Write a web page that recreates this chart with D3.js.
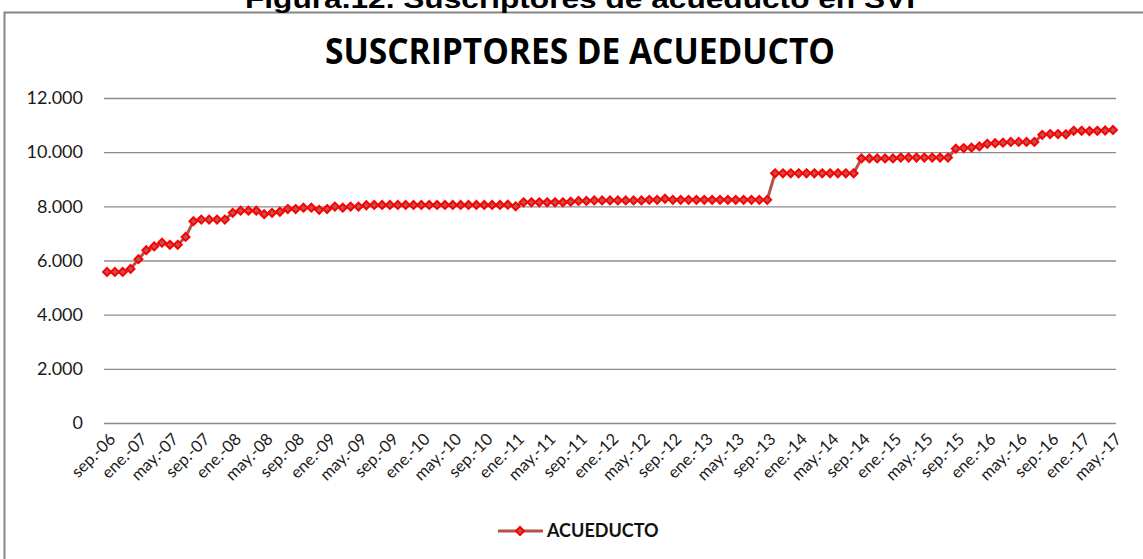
<!DOCTYPE html>
<html>
<head>
<meta charset="utf-8">
<script src="https://cdn.jsdelivr.net/npm/d3@7"></script>
<style>
  body { margin: 0; background: #fff; }
  svg { display: block; }
</style>
</head>
<body>
<div id="chart"></div>
<script>
// monthly subscribers, sep-06 .. may-17
const subscribers = [
  5580, 5580, 5580, 5690, 6050, 6380, 6520, 6660, 6580, 6580,
  6870, 7450, 7510, 7510, 7510, 7510, 7760, 7840, 7840, 7840,
  7710, 7760, 7800, 7900, 7900, 7950, 7950, 7870, 7900, 7990,
  7950, 7990, 7990, 8040, 8050, 8050, 8050, 8050, 8050, 8050,
  8050, 8050, 8050, 8050, 8050, 8050, 8050, 8050, 8050, 8050,
  8050, 8060, 8000, 8150, 8150, 8150, 8150, 8150, 8150, 8170,
  8200, 8200, 8220, 8220, 8220, 8220, 8220, 8220, 8220, 8240,
  8240, 8280, 8240, 8240, 8240, 8240, 8240, 8240, 8240, 8240,
  8240, 8240, 8240, 8240, 8240, 9220, 9220, 9220, 9220, 9220,
  9220, 9220, 9220, 9220, 9220, 9220, 9770, 9770, 9770, 9770,
  9770, 9800, 9800, 9800, 9800, 9800, 9800, 9800, 10130, 10150,
  10170, 10210, 10310, 10330, 10350, 10380, 10380, 10380, 10380, 10640,
  10670, 10670, 10660, 10790, 10790, 10780, 10790, 10800, 10820
];

// one label every four months
const tickLabels = [
  "sep.-06", "ene.-07", "may.-07", "sep.-07", "ene.-08", "may.-08", "sep.-08",
  "ene.-09", "may.-09", "sep.-09", "ene.-10", "may.-10", "sep.-10", "ene.-11",
  "may.-11", "sep.-11", "ene.-12", "may.-12", "sep.-12", "ene.-13", "may.-13",
  "sep.-13", "ene.-14", "may.-14", "sep.-14", "ene.-15", "may.-15", "sep.-15",
  "ene.-16", "may.-16", "sep.-16", "ene.-17", "may.-17"
];

const yTicks = [0, 2000, 4000, 6000, 8000, 10000, 12000];

const months = d3.timeMonth.range(new Date(2006, 8, 1), new Date(2017, 5, 1));

const width = 1143;
const height = 559;

const locale = d3.formatLocale({ decimal: ",", thousands: ".", grouping: [3], currency: ["$", ""] });
const fmt = locale.format(",");

const svg = d3.select("#chart")
  .append("svg")
  .attr("width", width)
  .attr("height", height);

// outer frame (right and bottom sides fall outside the picture)
svg.append("rect")
  .attr("x", 4.5)
  .attr("y", 12.5)
  .attr("width", 1160)
  .attr("height", 600)
  .attr("fill", "none")
  .attr("stroke", "#858585")
  .attr("stroke-width", 2);

// figure caption, cut at the top as in the source page
svg.append("text")
  .attr("x", 580)
  .attr("y", 8)
  .attr("text-anchor", "middle")
  .attr("textLength", 670)
  .attr("lengthAdjust", "spacingAndGlyphs")
  .style("font-family", "'Liberation Sans', Arial, sans-serif")
  .style("font-weight", "bold")
  .style("font-size", "25px")
  .text("Figura.12. Suscriptores de acueducto en SVI");

svg.append("text")
  .attr("x", 580)
  .attr("y", 64)
  .attr("text-anchor", "middle")
  .attr("textLength", 510)
  .attr("lengthAdjust", "spacingAndGlyphs")
  .style("font-family", "'Open Sans', sans-serif")
  .style("font-weight", "bold")
  .style("font-size", "35px")
  .text("SUSCRIPTORES DE ACUEDUCTO");

const x = d3.scalePoint()
  .domain(months.map((d, i) => i))
  .range([107, 1113]);

const y = d3.scaleLinear()
  .domain([0, 12000])
  .range([423, 98]);

// gridlines + y labels
const yAxis = d3.axisLeft(y)
  .tickValues(yTicks)
  .tickFormat(fmt)
  .tickSize(-(1116 - 104))
  .tickPadding(21);

const gy = svg.append("g")
  .attr("transform", "translate(104,0)")
  .call(yAxis);
gy.select(".domain").remove();
gy.selectAll(".tick line")
  .attr("stroke", "#8c8c8c")
  .attr("stroke-width", 1.3);
gy.selectAll(".tick text")
  .style("font-family", "Lato, sans-serif")
  .style("font-size", "18px")
  .attr("fill", "#1a1a1a");

// x axis labels
const xAxis = d3.axisBottom(x)
  .tickValues(months.map((d, i) => i).filter(i => i % 4 === 0))
  .tickFormat(i => tickLabels[i / 4])
  .tickSize(0);

const gx = svg.append("g")
  .attr("transform", "translate(0,423)")
  .call(xAxis);
gx.select(".domain").remove();
gx.selectAll(".tick text")
  .attr("text-anchor", "end")
  .attr("dy", 0)
  .attr("transform", "translate(7,15) rotate(-45)")
  .style("font-family", "Lato, sans-serif")
  .style("font-size", "16.5px")
  .attr("fill", "#1a1a1a");

// series
const line = d3.line()
  .x((d, i) => x(i))
  .y(d => y(d));

svg.append("path")
  .datum(subscribers)
  .attr("fill", "none")
  .attr("stroke", "#b5504c")
  .attr("stroke-width", 3)
  .attr("d", line);

const diamond = d3.symbol().type(d3.symbolDiamond2).size(40);

svg.append("g")
  .selectAll("path")
  .data(subscribers)
  .join("path")
  .attr("d", diamond)
  .attr("transform", (d, i) => `translate(${x(i)},${y(d)})`)
  .attr("fill", "#b85555")
  .attr("stroke", "#ff0000")
  .attr("stroke-width", 2);

// legend
const lg = svg.append("g").attr("transform", "translate(498,531)");
lg.append("line")
  .attr("x1", 0).attr("x2", 45)
  .attr("stroke", "#b5504c")
  .attr("stroke-width", 3);
lg.append("path")
  .attr("d", diamond)
  .attr("transform", "translate(22,0)")
  .attr("fill", "#b85555")
  .attr("stroke", "#ff0000")
  .attr("stroke-width", 2);
lg.append("text")
  .attr("x", 49)
  .attr("y", 6)
  .style("font-family", "Lato, sans-serif")
  .style("font-weight", "bold")
  .style("font-size", "18px")
  .attr("fill", "#111")
  .text("ACUEDUCTO");
</script>
</body>
</html>
